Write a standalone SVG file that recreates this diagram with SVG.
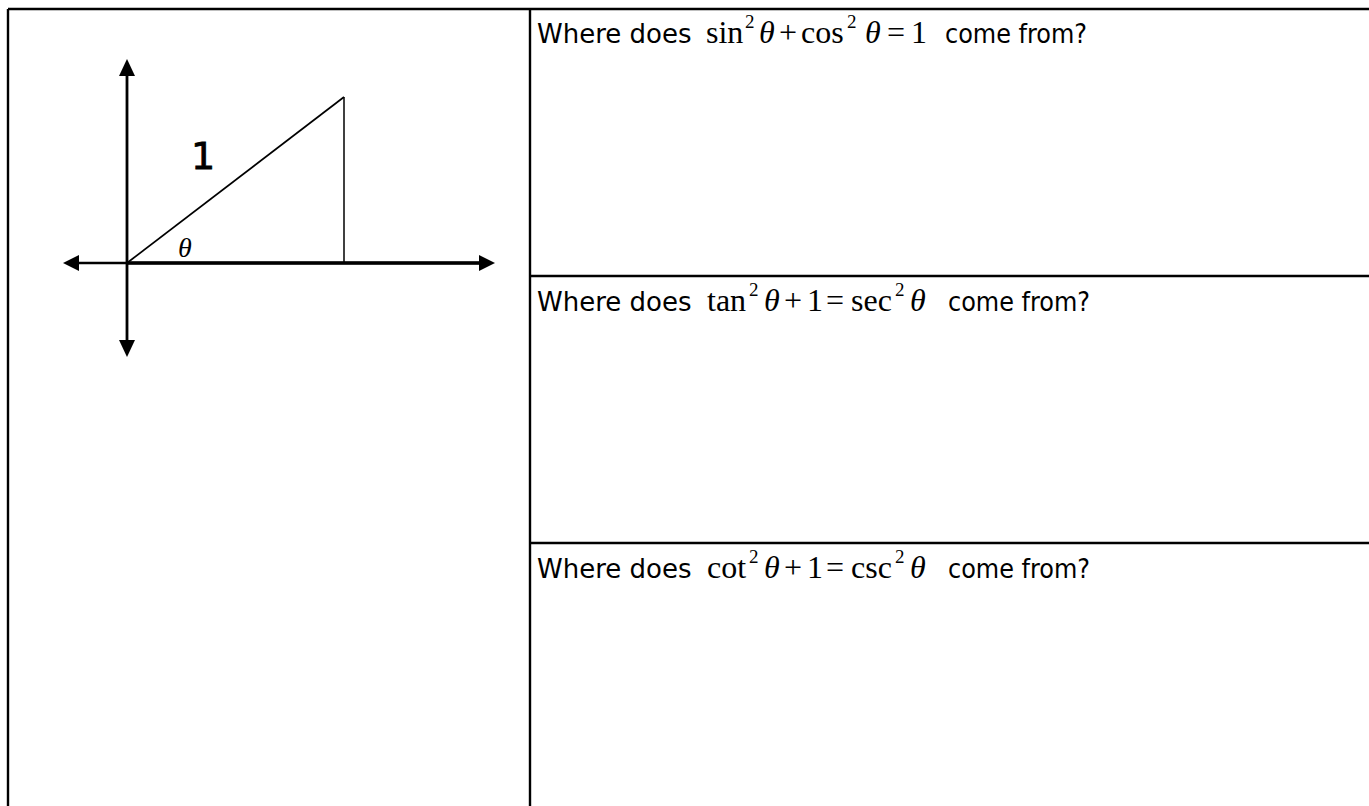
<svg xmlns="http://www.w3.org/2000/svg" width="1369" height="806" viewBox="0 0 1369 806">
<style>
.frame{stroke:#000;stroke-width:2.4;fill:none}
.vaxis{stroke:#000;stroke-width:2.8;fill:none}
.haxis{stroke:#000;stroke-width:3.4;fill:none}
.thin{stroke:#000;stroke-width:1.7;fill:none}
.head{fill:#000;stroke:none}
.txt{font-family:"DejaVu Sans","Open Sans",sans-serif;font-size:26px;fill:#000}
.m{font-family:"Liberation Serif","Times New Roman",serif;font-size:32px;fill:#000}
.mi{font-family:"Liberation Serif","Times New Roman",serif;font-size:32px;font-style:italic;fill:#000}
.sup{font-family:"Liberation Serif","Times New Roman",serif;font-size:19px;fill:#000}
</style>
<rect width="1369" height="806" fill="#fff"/>
<g id="table">
<line class="frame" x1="8" y1="9" x2="1369" y2="9"/>
<line class="frame" x1="8" y1="9" x2="8" y2="806"/>
<line class="frame" x1="530" y1="9" x2="530" y2="806"/>
<line class="frame" x1="530" y1="276" x2="1369" y2="276"/>
<line class="frame" x1="530" y1="543" x2="1369" y2="543"/>
</g>
<g id="figure">
<line class="vaxis" x1="127" y1="72" x2="127" y2="345"/>
<line class="haxis" x1="74" y1="263" x2="482" y2="263" style="stroke-width:2.6"/>
<line class="haxis" x1="127" y1="263" x2="482" y2="263"/>
<polygon class="head" points="127,59 119,76 135,76"/>
<polygon class="head" points="127,357 119,340 135,340"/>
<polygon class="head" points="63,263 79,255 79,271"/>
<polygon class="head" points="495,263 479,255 479,271"/>
<line class="thin" x1="127" y1="263" x2="344" y2="97"/>
<line class="thin" x1="344" y1="97" x2="344" y2="263" style="stroke-width:1.5"/>
<text x="191" y="169" style="font-family:'DejaVu Sans',sans-serif;font-size:38px;stroke:#000;stroke-width:0.8">1</text>
<text class="mi" x="178" y="257" style="font-size:28px">θ</text>
</g>
<g id="row1">
<text class="txt" x="537" y="43">Where does</text>
<text class="m" x="706" y="43">sin</text>
<text class="sup" x="745" y="28">2</text>
<text class="mi" x="759" y="43">θ</text>
<text class="m" x="779" y="43">+</text>
<text class="m" x="801" y="43">cos</text>
<text class="sup" x="847" y="28">2</text>
<text class="mi" x="865" y="43">θ</text>
<text class="m" x="887" y="43">=</text>
<text class="m" x="911" y="43">1</text>
<text class="txt" x="945" y="43" textLength="142" lengthAdjust="spacingAndGlyphs">come from?</text>
</g>
<g id="row2">
<text class="txt" x="537" y="311">Where does</text>
<text class="m" x="707" y="311">tan</text>
<text class="sup" x="749" y="296">2</text>
<text class="mi" x="764" y="311">θ</text>
<text class="m" x="784" y="311">+</text>
<text class="m" x="807" y="311">1</text>
<text class="m" x="826" y="311">=</text>
<text class="m" x="851" y="311">sec</text>
<text class="sup" x="895" y="296">2</text>
<text class="mi" x="910" y="311">θ</text>
<text class="txt" x="948" y="311" textLength="142" lengthAdjust="spacingAndGlyphs">come from?</text>
</g>
<g id="row3">
<text class="txt" x="537" y="578">Where does</text>
<text class="m" x="707" y="578">cot</text>
<text class="sup" x="749" y="563">2</text>
<text class="mi" x="764" y="578">θ</text>
<text class="m" x="784" y="578">+</text>
<text class="m" x="807" y="578">1</text>
<text class="m" x="826" y="578">=</text>
<text class="m" x="851" y="578">csc</text>
<text class="sup" x="895" y="563">2</text>
<text class="mi" x="910" y="578">θ</text>
<text class="txt" x="948" y="578" textLength="142" lengthAdjust="spacingAndGlyphs">come from?</text>
</g>
</svg>
